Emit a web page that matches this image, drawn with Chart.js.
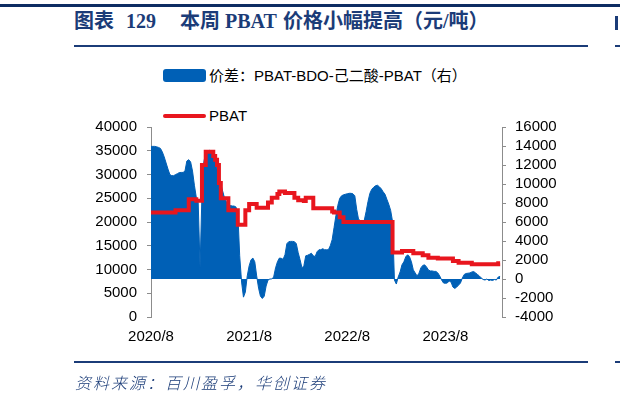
<!DOCTYPE html>
<html><head><meta charset="utf-8">
<script src="https://cdn.jsdelivr.net/npm/chart.js@4.4.1/dist/chart.umd.min.js"></script>
<style>
html,body{margin:0;padding:0;background:#fff;}
body{width:620px;height:402px;overflow:hidden;position:relative;font-family:"Liberation Sans","Noto Sans CJK SC",sans-serif;}
.abs{position:absolute;white-space:nowrap;}
.tt{font-weight:bold;font-size:20px;color:#1B3C78;font-family:"Liberation Serif","Noto Sans CJK SC",serif;line-height:20px;}
.lg{font-size:15px;color:#000;line-height:16px;}
#c{position:absolute;left:0;top:0;}
</style></head><body>
<div class="abs" style="left:0;top:4px;width:620px;height:3px;background:#0D2C62"></div>
<div class="abs tt" style="left:74px;top:11px">图表</div>
<div class="abs tt" style="left:126px;top:11px">129</div>
<div class="abs tt" style="left:180px;top:11px">本周</div>
<div class="abs tt" style="left:225px;top:11px">PBAT</div>
<div class="abs tt" style="left:283px;top:11px">价格小幅提高（元/吨）</div>
<div class="abs" style="left:74px;top:45px;width:514px;height:2px;background:#1B3C78"></div>
<div class="abs" style="left:615px;top:16px;width:3px;height:14px;background:#1B3C78"></div>
<div class="abs" style="left:615px;top:45px;width:5px;height:2px;background:#1B3C78"></div>

<div class="abs" style="left:163px;top:69px;width:43px;height:13px;border-radius:3px;background:#0060B6"></div>
<div class="abs lg" style="left:209px;top:68px">价差：PBAT-BDO-己二酸-PBAT（右）</div>
<div class="abs" style="left:163px;top:114px;width:43px;height:4px;border-radius:2px;background:#E8161E"></div>
<div class="abs lg" style="left:209px;top:108px">PBAT</div>

<canvas id="c" width="620" height="402"></canvas>

<div class="abs" style="left:74px;top:361px;width:514px;height:2px;background:#1B3C78"></div>
<div class="abs" style="left:615px;top:361px;width:5px;height:2px;background:#1B3C78"></div>
<div class="abs" style="left:75px;top:370px;font-size:16px;letter-spacing:2px;font-style:italic;color:#1B3C78;font-family:'Noto Sans CJK SC';font-weight:300">资料来源：百川盈孚，华创证券</div>

<script>
// weekly observations starting 2020/8/7
const startDate = [2020, 8, 7];
const tickLabels = ['2020/8', '2021/8', '2022/8', '2023/8'];
const leftTicks = [0, 5000, 10000, 15000, 20000, 25000, 30000, 35000, 40000];
const rightTicks = [-4000, -2000, 0, 2000, 4000, 6000, 8000, 10000, 12000, 14000, 16000];

// PBAT price (yuan/ton), left axis
const pbat = [
22000,22000,22000,22000,22000,22000,22000,22000,22000,22000,22000,22000,22000,
22500,22500,22500,22500,22500,22500,22500,
24800,24800,24800,24800,
24500,24500,24500,
32000,32000,
34800,34800,34800,34800,
33900,33100,32000,28200,
25000,25000,25000,25000,
22500,22500,22500,22500,22500,
19400,19400,19400,19400,
22500,22500,
23800,23800,23800,23800,
23000,23000,23000,23000,23000,23000,
24100,24100,
25100,25100,25100,
25900,
26400,26400,26400,
26100,26100,26100,26100,26100,
25100,25100,
24600,24600,24600,
24400,
25100,25100,25100,25100,
22900,22900,22900,22900,22900,22900,22900,22900,22900,22900,
22200,
22000,22000,22000,
21000,21000,
20000,20000,20000,20000,20000,20000,20000,20000,20000,20000,20000,20000,20000,
20000,20000,20000,20000,20000,20000,20000,20000,20000,20000,20000,20000,20000,
13600,13600,13600,13600,13600,
13900,13900,13900,13900,13900,13900,
13400,13400,13400,13400,13400,
13000,13000,13000,
12500,12500,12500,12500,12500,
12300,12300,12300,12300,12300,12300,12300,12300,
11800,11800,11800,
11400,11400,11400,11400,11400,11400,11400,
11100,11100,11100,11100,11100,11100,11100,11100,11100,11100,11100,11100,11100,11100,
11300,11300
];

// spread PBAT - BDO - adipic acid (yuan/ton), right axis
const spread = [
13960,13960,13960,13910,13850,13750,13380,12850,12210,11570,
10990,10880,10880,10990,11090,11200,11220,11220,11360,12420,
12560,12320,11360,9870,8600,8070,1200,8920,12320,13340,
13510,13540,13510,12850,12370,11570,10930,9980,9240,8490,
8120,7860,7750,7680,7680,7590,7010,2440,-320,-1910,
-1380,320,1380,2020,2200,1810,320,-960,-1810,-2050,
-1810,-740,-110,0,0,210,1170,1810,2200,2180,
2070,2550,3720,3930,3960,3960,3930,3720,2760,2020,
1170,1380,2440,2500,2600,2710,2440,2370,2870,3080,
3080,3190,3080,3080,3080,3500,4140,5410,6690,7750,
8490,8760,8860,8920,8970,9020,9020,8970,8760,7330,
6260,6160,6160,6160,7110,8170,9020,9450,9660,9820,
9870,9710,9500,9180,8920,8390,7860,7220,6050,-110,
-530,210,740,1490,1810,2340,2550,2340,1810,960,
640,320,610,1170,1430,1490,1270,960,850,850,
800,800,640,320,-110,-420,-460,-420,-210,-320,
-850,-990,-850,-640,-420,110,480,580,610,640,
740,780,640,480,320,110,-50,-110,0,-160,
-110,-160,-50,-110,210,270
];

// category labels: one per week (one extra slot closes the axis)
const categories = [];
{
  const d = new Date(startDate[0], startDate[1] - 1, startDate[2]);
  for (let i = 0; i <= spread.length; i++) {
    categories.push(d.getFullYear() + '/' + (d.getMonth() + 1) + '/' + d.getDate());
    d.setDate(d.getDate() + 7);
  }
}
function tickText(i) {
  const p = categories[i].split('/');
  const lab = p[0] + '/' + p[1];
  return (+p[2] <= 7 && tickLabels.includes(lab)) ? lab : '';
}

const BLUE = '#0060B6', RED = '#E8161E', AX = '#8C8C8C';
const tickFont = {family: 'Liberation Sans', size: 15};

new Chart(document.getElementById('c'), {
  type: 'line',
  data: {
    labels: categories,
    datasets: [
      {label: 'PBAT', data: pbat, yAxisID: 'y', borderColor: RED, backgroundColor: RED,
       borderWidth: 4, pointRadius: 0, stepped: true, fill: false, order: 0},
      {label: '价差：PBAT-BDO-己二酸-PBAT（右）', data: spread, yAxisID: 'y1',
       borderColor: BLUE, backgroundColor: BLUE, borderWidth: 1, pointRadius: 0,
       tension: 0, fill: 'origin', order: 1}
    ]
  },
  options: {
    responsive: false, animation: false, devicePixelRatio: 1,
    layout: {padding: {top: 127, left: 0, right: 0, bottom: 0}},
    plugins: {legend: {display: false}, tooltip: {enabled: false}},
    scales: {
      x: {
        type: 'category', offset: false,
        grid: {display: false, drawTicks: false}, border: {display: false},
        ticks: {autoSkip: false, maxRotation: 0, minRotation: 0, padding: 11,
                color: '#000', font: tickFont,
                callback: (v, i) => tickText(i)},
        afterFit: s => { s.height = 85; }
      },
      y: {
        position: 'left', min: 0, max: 40000,
        afterBuildTicks: s => { s.ticks = leftTicks.map(v => ({value: v})); },
        grid: {drawOnChartArea: false, drawTicks: true, tickLength: 4, color: AX},
        border: {display: true, color: AX, width: 1},
        ticks: {autoSkip: false, padding: 10, color: '#000', font: tickFont, callback: v => String(v)},
        afterFit: s => { s.width = 151; }
      },
      y1: {
        position: 'right', min: -4000, max: 16000,
        afterBuildTicks: s => { s.ticks = rightTicks.map(v => ({value: v})); },
        grid: {drawOnChartArea: false, drawTicks: true, tickLength: 4, color: AX},
        border: {display: true, color: AX, width: 1},
        ticks: {autoSkip: false, padding: 9, color: '#000', font: tickFont, callback: v => String(v)},
        afterFit: s => { s.width = 118; }
      }
    }
  }
});
</script>
</body></html>
